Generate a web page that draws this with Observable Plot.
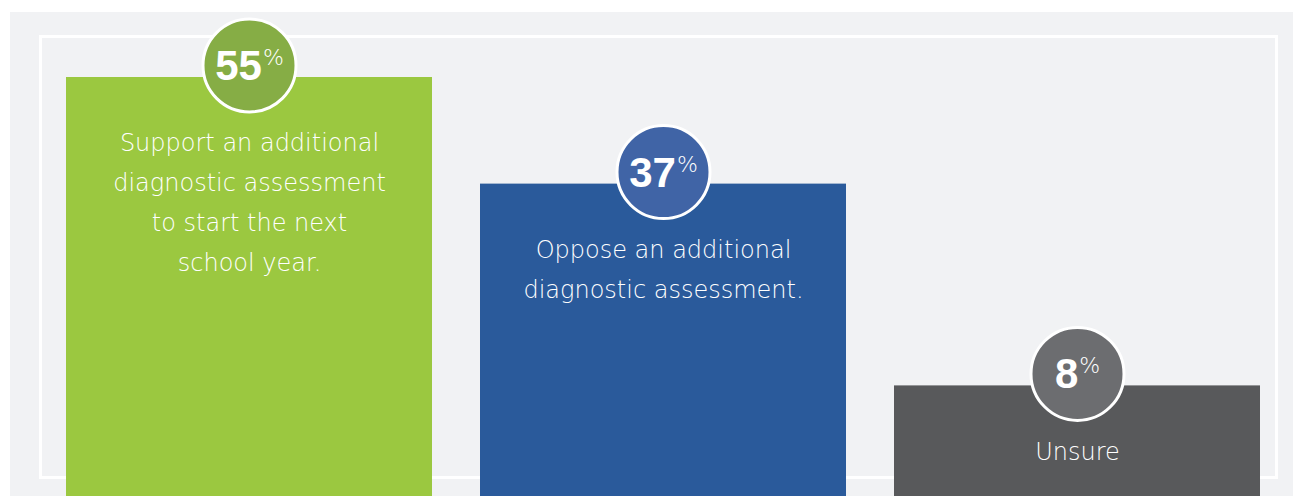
<!DOCTYPE html>
<html><head><meta charset="utf-8">
<script src="https://cdn.jsdelivr.net/npm/d3@7"></script>
<script src="https://cdn.jsdelivr.net/npm/@observablehq/plot@0.6"></script>
<style>
html,body{margin:0;padding:0;background:#fff;}
#wrap{position:relative;width:1293px;height:496px;overflow:hidden;}
#panel{position:absolute;left:10px;top:12px;width:1283px;height:484px;background:#f1f2f4;}
#border{position:absolute;left:39px;top:35px;width:1233px;height:438px;border:3px solid #fff;}
#chart{position:absolute;left:0;top:0;}
</style></head><body>
<div id="wrap"><div id="panel"></div><div id="border"></div><div id="chart"></div></div>
<script>
const categories = ["Support", "Oppose", "Unsure"];
const values = [55, 37, 8];
const labels = [
  "Support an additional\ndiagnostic assessment\nto start the next\nschool year.",
  "Oppose an additional\ndiagnostic assessment.",
  "Unsure"
];
const barColors = ["#9bc840", "#2a5a9b", "#58595b"];
const circleColors = ["#86ad45", "#4064a6", "#6c6d70"];

const data = categories.map((c, i) => ({
  category: c, value: values[i], label: labels[i], bar: barColors[i], circle: circleColors[i]
}));

const chart = Plot.plot({
  width: 1293, height: 496,
  marginLeft: 66, marginRight: 33, marginTop: 77, marginBottom: 26.7,
  style: {background: "transparent", overflow: "visible"},
  x: {domain: categories, paddingInner: 0.116, paddingOuter: 0, axis: null},
  y: {type: "pow", exponent: 0.8, domain: [0, 55], axis: null},
  color: {type: "identity"},
  marks: [
    Plot.barY(data, {x: "category", y: "value", fill: "bar", insetBottom: -27}),
    Plot.dot(data, {x: "category", y: "value", dy: -12, r: 46.5, fill: "circle", stroke: "#fff", strokeWidth: 3}),
    Plot.text(data, {x: "category", y: "value", dy: -11, text: d => d.value + "%", fill: "#fff",
      fontSize: 42, fontWeight: "bold", fontFamily: "Liberation Sans, Arial, sans-serif", lineAnchor: "middle"}),
    Plot.text(data, {x: "category", y: "value", dy: 45.5, text: "label", lineAnchor: "top", lineHeight: 1.667,
      fill: "#fff", fontSize: 24, fontWeight: 300, fontFamily: "DejaVu Sans, sans-serif"})
  ]
});

d3.select(chart).selectAll("text").each(function() {
  const t = this.textContent;
  const m = /^(\d+)%$/.exec(t);
  if (!m) return;
  const sel = d3.select(this);
  sel.text(null);
  sel.append("tspan").text(m[1]);
  sel.append("tspan").text("%").attr("font-size", 22).attr("font-weight", 300)
    .attr("font-family", "DejaVu Sans, sans-serif").attr("dy", -15).attr("dx", 1);
});

document.getElementById("chart").appendChild(chart);
</script>
</body></html>
